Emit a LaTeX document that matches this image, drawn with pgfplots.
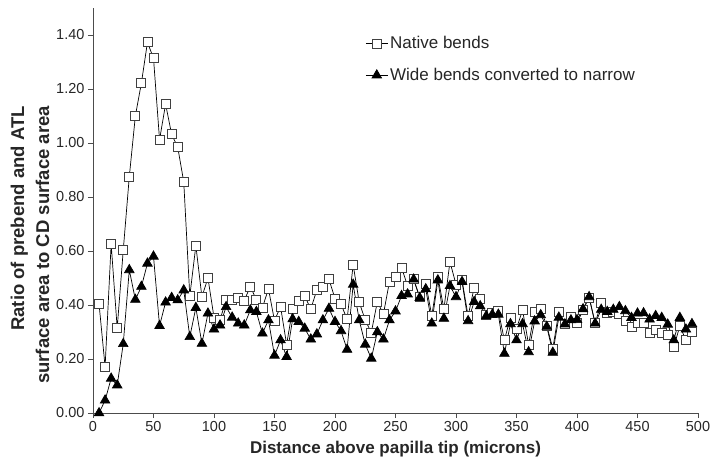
\documentclass[border=0pt]{standalone}
\usepackage{pgfplots}
\pgfplotsset{compat=1.18}
\usepackage{pgfplotstable}
\usepackage{fontspec}
\setmainfont{Liberation Sans}
\pgfplotstableread{
x y
5 0.404
10 0.171
15 0.626
20 0.314
25 0.603
30 0.875
35 1.100
40 1.222
45 1.373
50 1.314
55 1.012
60 1.144
65 1.032
70 0.985
75 0.856
80 0.433
85 0.620
90 0.430
95 0.500
100 0.354
105 0.345
110 0.420
115 0.420
120 0.426
125 0.417
130 0.468
135 0.420
140 0.390
145 0.460
150 0.342
155 0.394
160 0.254
165 0.385
170 0.416
175 0.433
180 0.385
185 0.456
190 0.468
195 0.495
200 0.424
205 0.403
210 0.347
215 0.549
220 0.411
225 0.344
230 0.298
235 0.412
240 0.366
245 0.486
250 0.505
255 0.539
260 0.470
265 0.495
270 0.430
275 0.480
280 0.360
285 0.505
290 0.385
295 0.560
300 0.476
305 0.492
310 0.359
315 0.465
320 0.422
325 0.363
330 0.369
335 0.378
340 0.270
345 0.354
350 0.313
355 0.381
360 0.254
365 0.375
370 0.385
375 0.323
380 0.239
385 0.375
390 0.329
395 0.356
400 0.334
405 0.381
410 0.428
415 0.332
420 0.408
425 0.369
430 0.375
435 0.366
440 0.340
445 0.319
450 0.334
455 0.334
460 0.297
465 0.309
470 0.295
475 0.288
480 0.245
485 0.322
490 0.270
495 0.300
}\native
\pgfplotstableread{
x y
5 0.000
10 0.047
15 0.128
20 0.103
25 0.256
30 0.530
35 0.420
40 0.468
45 0.554
50 0.580
55 0.323
60 0.410
65 0.427
70 0.418
75 0.455
80 0.282
85 0.390
90 0.257
95 0.369
100 0.310
105 0.325
110 0.393
115 0.354
120 0.332
125 0.325
130 0.381
135 0.375
140 0.295
145 0.344
150 0.213
155 0.270
160 0.208
165 0.348
170 0.338
175 0.313
180 0.273
185 0.292
190 0.344
195 0.387
200 0.338
205 0.304
210 0.235
215 0.476
220 0.344
225 0.254
230 0.202
235 0.300
240 0.273
245 0.344
250 0.377
255 0.434
260 0.440
265 0.495
270 0.427
275 0.459
280 0.332
285 0.492
290 0.350
295 0.471
300 0.430
305 0.486
310 0.341
315 0.412
320 0.396
325 0.359
330 0.365
335 0.365
340 0.220
345 0.330
350 0.270
355 0.330
360 0.226
365 0.340
370 0.363
375 0.320
380 0.224
385 0.354
390 0.329
395 0.344
400 0.345
405 0.385
410 0.430
415 0.332
420 0.383
425 0.375
430 0.383
435 0.393
440 0.378
445 0.353
450 0.369
455 0.370
460 0.347
465 0.360
470 0.353
475 0.328
480 0.270
485 0.353
490 0.310
495 0.330
}\wide
\begin{document}
\begin{tikzpicture}
\begin{axis}[
  scale only axis,
  width=605pt, height=405pt,
  xmin=0, xmax=500, ymin=0, ymax=1.5,
  axis lines=left,
  axis line style={-, line width=0.8pt, black!70},
  xtick={0,50,...,500},
  ytick={0,0.2,0.4,0.6,0.8,1.0,1.2,1.4},
  tick align=outside,
  major tick length=5pt,
  tick style={black!70, line width=0.8pt},
  /pgf/number format/assume math mode=true,
  yticklabel style={/pgf/number format/.cd, fixed, fixed zerofill, precision=2},
  xticklabel style={/pgf/number format/.cd, fixed},
  ticklabel style={font=\fontsize{14.5}{16}\selectfont, black!85},
  xlabel={\textbf{Distance above papilla tip (microns)}},
  ylabel={\textbf{Ratio of prebend and ATL}\\\textbf{surface area to CD surface area}},
  xlabel style={font=\fontsize{17}{20}\selectfont, black!85, yshift=-3pt},
  ylabel style={font=\fontsize{18.5}{25}\selectfont, black!85, align=right,
    at={(ticklabel cs:0.415)}},
  legend style={draw=none, fill=none, at={(rel axis cs:0.445,0.94)}, anchor=north west,
    font=\fontsize{17}{20}\selectfont, row sep=14pt, text=black!85},
  legend cell align=left,
  legend image code/.code={\draw[#1] (0pt,0pt) -- (22pt,0pt); \draw[#1, only marks] plot coordinates {(11pt,0pt)};},
]
\addplot[black, line width=0.7pt, mark=square*, mark size=4.5pt,
  mark options={fill=white, draw=black!75, line width=0.8pt}] table[x=x,y=y] {\native};
\addlegendentry{Native bends}
\addplot[black, line width=0.7pt, mark=triangle*, mark size=5.5pt,
  mark options={fill=black, draw=black}] table[x=x,y=y] {\wide};
\addlegendentry{Wide bends converted to narrow}
\end{axis}
\path (current axis.south west) ++(-93pt,-53pt) rectangle ++(714pt,466pt);
\end{tikzpicture}
\end{document}
